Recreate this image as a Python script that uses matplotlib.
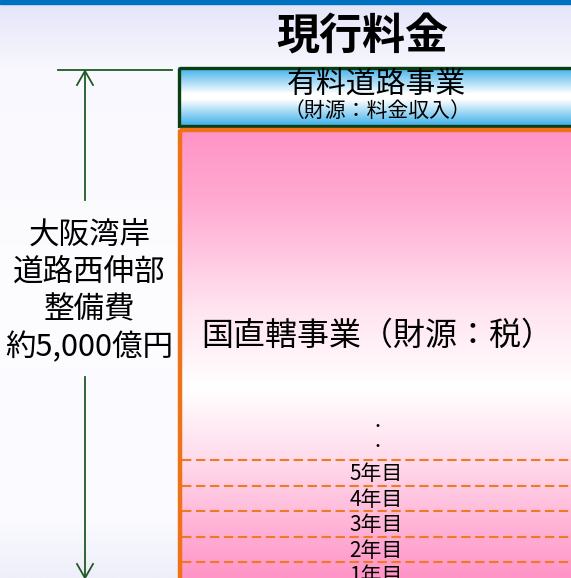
import numpy as np
import matplotlib
matplotlib.use("Agg")
import matplotlib.pyplot as plt
from matplotlib.patches import Rectangle
from matplotlib.colors import LinearSegmentedColormap

plt.rcParams['font.family'] = ['Noto Sans CJK JP', 'DejaVu Sans']

title = "現行料金"
toll_label = "有料道路事業"
toll_source = "（財源：料金収入）"
state_label = "国直轄事業（財源：税）"
cost_lines = ["大阪湾岸", "道路西伸部", "整備費", "約5,000億円"]
years = ["1年目", "2年目", "3年目", "4年目", "5年目"]

W, H = 571, 578
fig = plt.figure(figsize=(W / 100, H / 100), dpi=100)
ax = fig.add_axes([0, 0, 1, 1])
ax.set_xlim(0, W)
ax.set_ylim(H, 0)
ax.axis('off')


def vgrad(x0, x1, y0, y1, stops, z):
    cmap = LinearSegmentedColormap.from_list('g', stops)
    g = np.linspace(0, 1, 256).reshape(-1, 1)
    ax.imshow(g, cmap=cmap, extent=[x0, x1, y1, y0], aspect='auto',
              interpolation='bilinear', zorder=z)


# background
vgrad(0, W, 0, H, [(0, '#e4e4fa'), (0.12, '#f8f8fe'), (0.5, '#fdfdff'),
                   (0.9, '#fafaff'), (1, '#efeffa')], 0)
ax.add_patch(Rectangle((0, 0), W, 4, color='#0070c0', zorder=1))

ax.text(362, 37, title, fontsize=31, fontweight='bold', ha='center', va='center', zorder=5)

# toll road box
vgrad(178, W + 5, 67, 126, [(0, '#3aaeea'), (0.45, '#ffffff'), (0.55, '#ffffff'),
                            (1, '#3aaeea')], 2)
ax.add_patch(Rectangle((179, 67.5), W, 58, fill=False, ec='#0b3d12', lw=2.4, zorder=3))
ax.text(376, 84, toll_label, fontsize=21.5, ha='center', va='center', zorder=5)
ax.text(377, 111, toll_source, fontsize=15, ha='center', va='center', zorder=5)

# state-funded box
vgrad(178, W + 5, 129, H, [(0, '#ff94c6'), (0.15, '#ffa8d0'), (0.4, '#ffe4f0'),
                           (0.58, '#ffffff'), (0.75, '#ffd8ea'), (1, '#ff94c6')], 2)
ax.add_patch(Rectangle((180, 130), W, H, fill=False, ec='#ee7318', lw=3.2, zorder=3))
ax.text(377, 336, state_label, fontsize=23, ha='center', va='center', zorder=5)

for yy in [427, 447]:
    ax.text(377, yy, "・", fontsize=10, ha='center', va='center', zorder=5)

line_y = [562, 537, 511, 486, 460]
for i, lab in enumerate(years):
    ax.plot([182, W], [line_y[i], line_y[i]], color='#f07a22', lw=1.5,
            dashes=(4.5, 2.2), zorder=4)
    ax.text(376, line_y[i] + 14, lab, fontsize=15, ha='center', va='center', zorder=5)

# dimension arrow on the left
green = '#1f5a26'
ax.plot([58, 172], [70, 70], color=green, lw=1.3, zorder=4)
ax.plot([85, 85], [71, 200], color=green, lw=1.3, zorder=4)
ax.plot([85, 85], [377, 578], color=green, lw=1.3, zorder=4)
ax.plot([77, 85, 93], [85, 71, 85], color=green, lw=1.3, zorder=4)
ax.plot([77, 85, 93], [564, 578, 564], color=green, lw=1.3, zorder=4)

for i, s in enumerate(cost_lines):
    ax.text(89.5, 235 + i * 37.5, s, fontsize=22, ha='center', va='center', zorder=5)

fig.savefig('out.png', dpi=100)
